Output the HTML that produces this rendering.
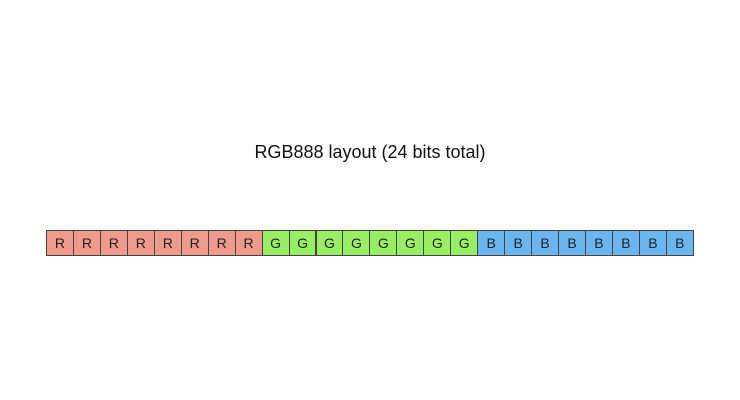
<!DOCTYPE html>
<html><head><style>
body{margin:0;width:740px;height:400px;background:#fff;position:relative;font-family:"Liberation Sans",sans-serif;}
.t{position:absolute;left:0;width:740px;top:142px;text-align:center;font-size:18px;color:#111;}
.c{position:absolute;top:230px;height:26px;box-sizing:border-box;border:1px solid #444;font-size:14px;line-height:24px;text-align:center;color:#222;}
</style></head><body>
<div class="t">RGB888 layout (24 bits total)</div>
<script>
for(let i=0;i<24;i++){const d=document.createElement('div');d.className='c';
const l=46+i*26.95;d.style.left=l+'px';d.style.width='27.95px';
const k=Math.floor(i/8);d.style.background=['#ee9a8c','#99ee66','#6cb6f0'][k];d.textContent='RGB'[k];document.body.appendChild(d);}
</script>
</body></html>
